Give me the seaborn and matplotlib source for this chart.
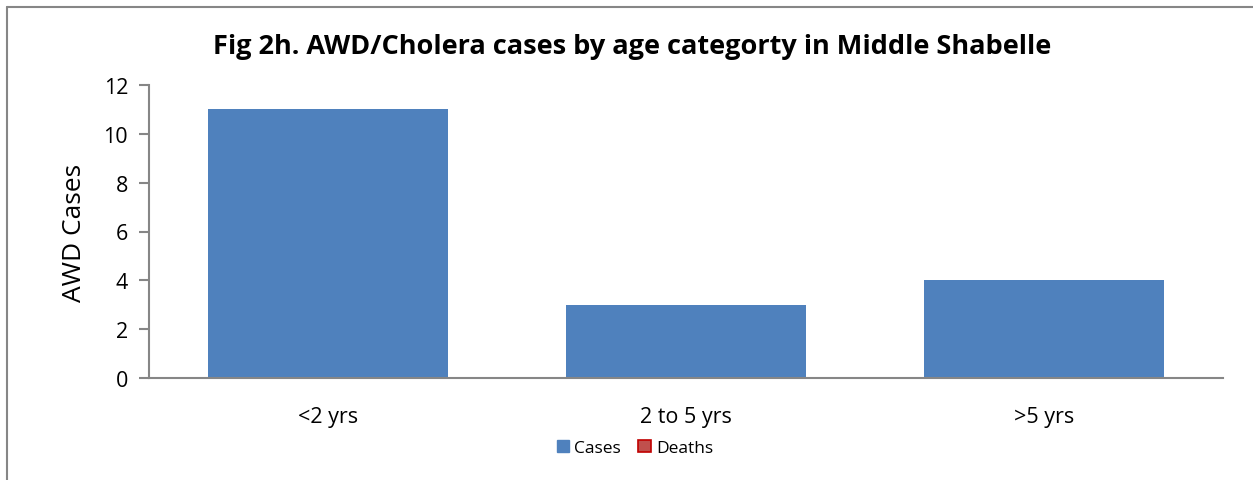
import numpy as np
import pandas as pd
import seaborn as sns
import matplotlib.pyplot as plt
from matplotlib.patches import Patch
from matplotlib.lines import Line2D

categories = ['<2 yrs', '2 to 5 yrs', '>5 yrs']
cases = [11, 3, 4]
deaths = [0, 0, 0]

sns.set_style('white')
plt.rcParams['font.family'] = ['Open Sans', 'DejaVu Sans']
plt.rcParams['text.color'] = 'black'
plt.rcParams['xtick.color'] = 'black'
plt.rcParams['ytick.color'] = 'black'
plt.rcParams['axes.labelcolor'] = 'black'

df = pd.DataFrame({
    'age': categories * 2,
    'value': cases + deaths,
    'series': ['Cases'] * 3 + ['Deaths'] * 3,
})

fig = plt.figure(figsize=(12.53, 4.81), dpi=100)
ax = fig.add_axes([149/1253, 1 - 379/481, (1223 - 149)/1253, (379 - 86)/481])

sns.barplot(data=df, x='age', y='value', hue='series', dodge=False,
            palette={'Cases': '#4F81BD', 'Deaths': '#C0504D'}, saturation=1,
            width=0.67, linewidth=0, ax=ax, legend=False)

gray = '#868686'
ax.set_xlim(-0.5, 2.5)
ax.set_ylim(0, 12)
ax.set_yticks(np.arange(0, 13, 2))
ax.set_xticks([0, 1, 2])
ax.set_xticks([-0.5, 0.5, 1.5, 2.5], minor=True)
ax.tick_params(axis='x', which='major', length=0, labelsize=15.5, pad=20)
ax.tick_params(axis='x', which='minor', length=7, color=gray, width=1.5, direction='out')
ax.tick_params(axis='y', length=7, color=gray, width=1.5, direction='out', labelsize=15.5, left=True, pad=8)
for lbl in ax.get_xticklabels() + ax.get_yticklabels():
    lbl.set_color('black')
for s in ['top', 'right']:
    ax.spines[s].set_visible(False)
for s in ['left', 'bottom']:
    ax.spines[s].set_color(gray)
    ax.spines[s].set_linewidth(1.5)
ax.set_xlabel('')
ax.set_ylabel('AWD Cases', fontsize=19, labelpad=12)

fig.text(632/1253, 1 - 47/481, 'Fig 2h. AWD/Cholera cases by age categorty in Middle Shabelle',
         ha='center', va='center', fontsize=19.5, fontweight='bold')

handles = [Patch(facecolor='#4F81BD', edgecolor='#4F81BD', label='Cases'),
           Patch(facecolor='#C0504D', edgecolor='#C00000', linewidth=1.2, label='Deaths')]
fig.legend(handles=handles, loc='center', bbox_to_anchor=(635/1253, 1 - 449/481), ncol=2,
           frameon=False, fontsize=12.5, handlelength=0.7, handleheight=0.7,
           handletextpad=0.3, columnspacing=1.0)

# chart border (only top and left visible in the crop)
fig.add_artist(Line2D([7/1253, 7/1253], [0, 1 - 8/481], color=gray, lw=1.5, transform=fig.transFigure))
fig.add_artist(Line2D([7/1253, 1], [1 - 8/481, 1 - 8/481], color=gray, lw=1.5, transform=fig.transFigure))

fig.savefig('out.png', dpi=100)
